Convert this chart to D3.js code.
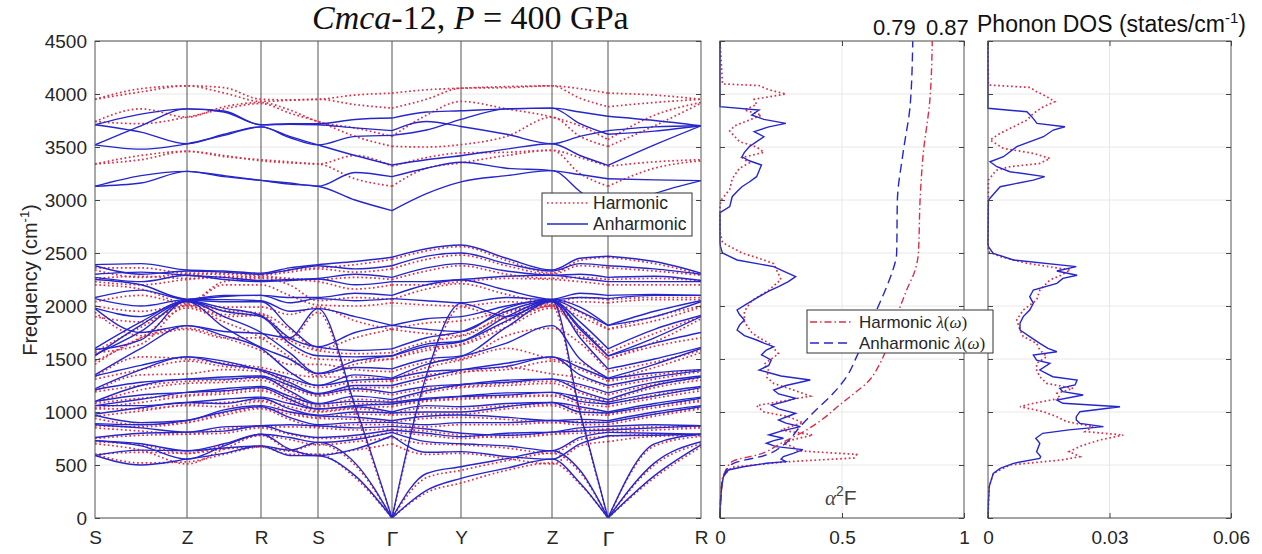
<!DOCTYPE html>
<html lang="en">
<head>
<meta charset="UTF-8">
<title>Cmca-12 phonons at 400 GPa</title>
<script src="https://d3js.org/d3.v7.min.js"></script>
<style>
  body { margin: 0; background: #fff; }
  svg text { font-family: "Liberation Sans", Arial, sans-serif; fill: #262626; }
</style>
</head>
<body>
<svg width="1262" height="554"></svg>
<script>
// ---------- data ----------
const yTicks = [0, 500, 1000, 1500, 2000, 2500, 3000, 3500, 4000, 4500];
const kNames = ["S", "Z", "R", "S", "\u0393", "Y", "Z", "\u0393", "R"];
const kPos = [0, 92, 166, 223, 297, 366, 457, 513, 606];
// k-path distance of every band sample (symmetry points + one point half way)
const kSample = [0, 46, 92, 129, 166, 194.5, 223, 260, 297, 331.5, 366, 411.5, 457, 485, 513, 559.5, 606];
const gammaCuts = [[0, 8], [8, 14], [14, 16]];

const a2fTicks = [0, 0.5, 1];
const a2fTickText = ["0", "0.5", "1"];
const dosTicks = [0, 0.03, 0.06];
const dosTickText = ["0", "0.03", "0.06"];
const lambdaTotals = ["0.79", "0.87"];

// anharmonic bands, cm^-1, columns: S . Z . R . S . G . Y . Z . G . R
const anhAcoustic = [
  [590, 500, 555, 610, 680, 590, 587, 400, 0, 260, 374, 470, 555, 330, 0, 400, 690],
  [590, 640, 635, 660, 680, 640, 713, 520, 0, 420, 484, 560, 635, 450, 0, 520, 720],
  [1975, 1750, 1815, 1760, 1740, 1700, 1975, 1060, 0, 1350, 2025, 1900, 2050, 1000, 0, 700, 790]
];
const anhOptic = [
  [730, 680, 555, 680, 790, 650, 590, 650, 776, 620, 626, 580, 555, 700, 776, 780, 790],
  [730, 700, 635, 700, 790, 760, 713, 740, 808, 720, 700, 680, 635, 760, 808, 800, 790],
  [760, 800, 810, 820, 870, 800, 760, 780, 830, 800, 767, 800, 810, 820, 830, 850, 870],
  [880, 850, 810, 860, 870, 880, 870, 850, 864, 840, 800, 780, 810, 850, 864, 880, 870],
  [890, 880, 920, 1000, 1050, 950, 880, 900, 902, 880, 900, 900, 920, 900, 902, 980, 1050],
  [970, 900, 920, 1020, 1060, 1000, 965, 950, 918, 960, 972, 950, 920, 930, 918, 1000, 1060],
  [980, 1040, 1090, 1080, 1130, 1030, 970, 1000, 990, 1000, 1000, 1050, 1090, 1000, 990, 1060, 1130],
  [1060, 1060, 1090, 1120, 1140, 1080, 1028, 1050, 1000, 1060, 1050, 1080, 1090, 1050, 1000, 1080, 1140],
  [1060, 1120, 1185, 1200, 1230, 1120, 1030, 1060, 1076, 1120, 1145, 1160, 1185, 1100, 1076, 1150, 1230],
  [1100, 1160, 1185, 1220, 1240, 1150, 1076, 1100, 1092, 1130, 1150, 1180, 1185, 1140, 1092, 1180, 1240],
  [1100, 1250, 1310, 1310, 1330, 1200, 1080, 1150, 1117, 1200, 1255, 1280, 1310, 1200, 1117, 1250, 1330],
  [1210, 1280, 1310, 1330, 1340, 1250, 1170, 1220, 1180, 1240, 1260, 1300, 1310, 1260, 1180, 1280, 1340],
  [1220, 1400, 1520, 1480, 1390, 1280, 1175, 1250, 1250, 1330, 1396, 1460, 1520, 1350, 1250, 1330, 1390],
  [1340, 1440, 1520, 1450, 1400, 1320, 1250, 1300, 1312, 1380, 1400, 1430, 1520, 1420, 1312, 1370, 1400],
  [1350, 1600, 1815, 1720, 1600, 1380, 1250, 1350, 1320, 1450, 1522, 1650, 1815, 1500, 1320, 1450, 1600],
  [1530, 1820, 2040, 1800, 1610, 1500, 1360, 1420, 1407, 1500, 1530, 1800, 2040, 1700, 1407, 1500, 1610],
  [1540, 1760, 2045, 1900, 1750, 1560, 1365, 1480, 1527, 1620, 1663, 1860, 2045, 1800, 1527, 1650, 1750],
  [1590, 1680, 2050, 1950, 1900, 1650, 1530, 1520, 1530, 1640, 1670, 1900, 2050, 1780, 1530, 1700, 1900],
  [1600, 1850, 2050, 1980, 1910, 1700, 1612, 1580, 1596, 1700, 1758, 1950, 2050, 1850, 1596, 1780, 1910],
  [1980, 1900, 2055, 2040, 2040, 1800, 1615, 1750, 1817, 1780, 1760, 1980, 2055, 1950, 1817, 1900, 2040],
  [2070, 2000, 2060, 2060, 2050, 1950, 1975, 1900, 1817, 1880, 1900, 2000, 2060, 1990, 1817, 1950, 2050],
  [2080, 2150, 2060, 2090, 2100, 2030, 2070, 2050, 2070, 2050, 2030, 2080, 2060, 2080, 2070, 2100, 2100],
  [2250, 2200, 2065, 2100, 2100, 2080, 2080, 2120, 2100, 2200, 2245, 2150, 2065, 2120, 2100, 2110, 2100],
  [2270, 2230, 2290, 2250, 2230, 2240, 2255, 2200, 2230, 2230, 2250, 2280, 2290, 2260, 2230, 2230, 2230],
  [2300, 2320, 2290, 2270, 2240, 2250, 2260, 2300, 2270, 2360, 2400, 2330, 2290, 2300, 2270, 2280, 2240],
  [2380, 2300, 2330, 2320, 2300, 2340, 2380, 2350, 2380, 2470, 2500, 2400, 2330, 2400, 2380, 2350, 2300],
  [2390, 2400, 2340, 2330, 2310, 2360, 2390, 2420, 2460, 2540, 2575, 2450, 2340, 2450, 2470, 2420, 2310]
];
const anhVibron = [
  [3130, 3160, 3270, 3230, 3185, 3150, 3130, 3000, 2900, 3060, 3171, 3230, 3277, 3080, 2880, 3060, 3183],
  [3130, 3230, 3270, 3220, 3185, 3160, 3130, 3260, 3220, 3300, 3356, 3300, 3277, 3240, 3200, 3190, 3183],
  [3520, 3480, 3530, 3610, 3690, 3600, 3520, 3420, 3330, 3380, 3418, 3480, 3531, 3420, 3327, 3520, 3700],
  [3520, 3700, 3860, 3830, 3710, 3715, 3710, 3680, 3654, 3740, 3694, 3620, 3531, 3600, 3654, 3690, 3700],
  [3710, 3640, 3530, 3620, 3690, 3590, 3520, 3600, 3610, 3660, 3760, 3860, 3867, 3720, 3620, 3650, 3700],
  [3710, 3810, 3860, 3840, 3710, 3720, 3720, 3760, 3773, 3830, 3842, 3860, 3867, 3830, 3790, 3750, 3700]
];

// harmonic bands, same columns
const harAcoustic = [
  [600, 520, 530, 600, 670, 600, 600, 380, 0, 240, 330, 450, 520, 320, 0, 380, 670],
  [600, 620, 610, 650, 670, 630, 700, 500, 0, 380, 450, 540, 610, 430, 0, 500, 700],
  [1940, 1720, 1780, 1700, 1700, 1680, 1940, 1020, 0, 1300, 1990, 1880, 2000, 980, 0, 680, 770]
];
const harOptic = [
  [700, 640, 510, 650, 780, 640, 600, 640, 700, 600, 610, 560, 510, 680, 720, 770, 780],
  [720, 690, 610, 690, 780, 740, 690, 720, 760, 700, 690, 660, 610, 740, 770, 790, 780],
  [750, 780, 790, 800, 850, 790, 750, 760, 810, 780, 750, 780, 790, 800, 810, 830, 850],
  [850, 820, 790, 840, 860, 860, 850, 830, 840, 820, 780, 760, 790, 830, 840, 860, 860],
  [870, 860, 900, 970, 1030, 930, 860, 880, 880, 860, 880, 880, 900, 880, 880, 960, 1030],
  [940, 880, 900, 990, 1040, 980, 940, 930, 900, 940, 950, 930, 900, 910, 900, 980, 1040],
  [960, 1010, 1060, 1050, 1100, 1000, 950, 980, 970, 980, 980, 1030, 1060, 980, 970, 1040, 1100],
  [1030, 1030, 1070, 1090, 1110, 1050, 1000, 1030, 980, 1040, 1030, 1060, 1070, 1030, 980, 1060, 1110],
  [1040, 1090, 1150, 1170, 1200, 1100, 1010, 1040, 1050, 1100, 1120, 1140, 1150, 1080, 1050, 1130, 1200],
  [1080, 1130, 1160, 1190, 1220, 1130, 1050, 1080, 1070, 1110, 1130, 1150, 1160, 1120, 1070, 1160, 1220],
  [1090, 1210, 1270, 1280, 1300, 1180, 1060, 1120, 1100, 1180, 1230, 1250, 1270, 1180, 1100, 1230, 1300],
  [1190, 1250, 1290, 1300, 1320, 1230, 1150, 1200, 1160, 1220, 1240, 1270, 1290, 1240, 1160, 1260, 1320],
  [1200, 1350, 1360, 1400, 1380, 1260, 1160, 1230, 1230, 1300, 1370, 1420, 1360, 1320, 1230, 1310, 1380],
  [1310, 1400, 1480, 1430, 1400, 1300, 1230, 1280, 1290, 1350, 1380, 1400, 1480, 1400, 1290, 1350, 1400],
  [1330, 1520, 1500, 1460, 1420, 1360, 1330, 1330, 1300, 1420, 1490, 1600, 1500, 1460, 1300, 1420, 1560],
  [1450, 1700, 1790, 1700, 1580, 1450, 1450, 1400, 1380, 1470, 1500, 1720, 1790, 1650, 1380, 1470, 1580],
  [1480, 1700, 1980, 1850, 1700, 1520, 1340, 1450, 1500, 1580, 1630, 1800, 1980, 1750, 1500, 1620, 1700],
  [1560, 1640, 2000, 1900, 1910, 1620, 1500, 1490, 1500, 1600, 1640, 1850, 2000, 1730, 1500, 1660, 1880],
  [1570, 1800, 2000, 1920, 1920, 1680, 1580, 1550, 1560, 1660, 1720, 1900, 2000, 1800, 1560, 1740, 1900],
  [1900, 1850, 2005, 1960, 1930, 1780, 1590, 1700, 1780, 1740, 1720, 1930, 2005, 1900, 1780, 1860, 1990],
  [2000, 1950, 2010, 1990, 1990, 1920, 1990, 1860, 1780, 1840, 1860, 1950, 2010, 1940, 1780, 1900, 2000],
  [2040, 2100, 2020, 2200, 2200, 2100, 2010, 2000, 2030, 2010, 2000, 2040, 2020, 2040, 2030, 2060, 2060],
  [2200, 2160, 2030, 2230, 2260, 2200, 2050, 2080, 2060, 2160, 2210, 2110, 2030, 2080, 2060, 2080, 2080],
  [2230, 2200, 2250, 2270, 2270, 2250, 2230, 2160, 2200, 2200, 2230, 2260, 2250, 2230, 2200, 2200, 2200],
  [2260, 2280, 2260, 2280, 2280, 2260, 2250, 2270, 2250, 2330, 2380, 2300, 2260, 2270, 2250, 2260, 2240],
  [2340, 2270, 2300, 2300, 2290, 2320, 2350, 2320, 2350, 2440, 2480, 2380, 2300, 2380, 2360, 2330, 2290],
  [2360, 2360, 2310, 2310, 2300, 2340, 2360, 2390, 2440, 2520, 2560, 2430, 2310, 2430, 2460, 2400, 2300]
];
const harVibron = [
  [3340, 3380, 3459, 3420, 3370, 3350, 3340, 3200, 3130, 3300, 3350, 3420, 3469, 3250, 3130, 3300, 3370],
  [3340, 3420, 3459, 3410, 3380, 3360, 3340, 3420, 3318, 3400, 3444, 3450, 3469, 3400, 3318, 3360, 3380],
  [3740, 3720, 3782, 3860, 3910, 3820, 3740, 3600, 3506, 3500, 3522, 3600, 3782, 3600, 3506, 3700, 3913],
  [3740, 3860, 3782, 3880, 3920, 3850, 3740, 3680, 3600, 3800, 3930, 3860, 3782, 3700, 3570, 3800, 3920],
  [3950, 4020, 4077, 4010, 3930, 3940, 3950, 3900, 3867, 3950, 4055, 4060, 4077, 3960, 3880, 3920, 3950],
  [3950, 4050, 4077, 4060, 3950, 3945, 3950, 3990, 4008, 4040, 4055, 4070, 4077, 4050, 4008, 3990, 3950]
];

// Eliashberg function alpha^2F, [frequency, value]
const a2fAnh = [[0,0],[150,0.002],[296,0.007],[390,0.014],[453,0.034],[484,0.096],[516,0.19],[532,0.27],[555,0.25],[579,0.26],[610,0.3],[645,0.34],[673,0.23],[705,0.19],[730,0.22],[752,0.26],[783,0.2],[820,0.25],[862,0.33],[895,0.27],[925,0.24],[960,0.28],[988,0.31],[1030,0.24],[1066,0.21],[1100,0.27],[1129,0.31],[1170,0.24],[1207,0.22],[1250,0.27],[1302,0.37],[1340,0.25],[1396,0.16],[1440,0.2],[1490,0.21],[1540,0.17],[1585,0.19],[1616,0.22],[1650,0.18],[1679,0.15],[1720,0.1],[1773,0.07],[1820,0.08],[1868,0.1],[1920,0.08],[1962,0.07],[2020,0.11],[2088,0.16],[2140,0.2],[2182,0.24],[2230,0.28],[2277,0.31],[2330,0.26],[2371,0.22],[2434,0.07],[2500,0.01],[2560,0.002],[2600,0],[2880,0],[2937,0.04],[3031,0.05],[3080,0.07],[3125,0.09],[3170,0.12],[3220,0.15],[3330,0.17],[3370,0.12],[3408,0.09],[3450,0.1],[3503,0.12],[3550,0.15],[3597,0.18],[3645,0.14],[3690,0.2],[3723,0.27],[3760,0.18],[3802,0.13],[3849,0.16],[3880,0],[4500,0]];
const a2fHar = [[0,0],[150,0.002],[300,0.006],[400,0.012],[480,0.05],[530,0.27],[566,0.55],[600,0.56],[634,0.32],[670,0.3],[705,0.26],[740,0.3],[783,0.38],[830,0.25],[870,0.3],[900,0.34],[956,0.28],[1000,0.18],[1060,0.15],[1100,0.25],[1150,0.37],[1200,0.31],[1270,0.22],[1330,0.19],[1390,0.2],[1450,0.18],[1500,0.21],[1550,0.24],[1600,0.22],[1650,0.2],[1700,0.16],[1750,0.13],[1850,0.1],[1950,0.1],[2050,0.13],[2150,0.2],[2250,0.25],[2300,0.24],[2400,0.22],[2450,0.16],[2500,0.09],[2600,0.01],[2700,0],[2950,0],[3000,0.005],[3100,0.04],[3200,0.05],[3300,0.08],[3350,0.12],[3400,0.09],[3450,0.18],[3500,0.15],[3550,0.08],[3650,0.04],[3700,0.06],[3800,0.17],[3850,0.1],[3900,0.15],[3950,0.14],[4000,0.27],[4040,0.2],[4080,0.16],[4095,0.01],[4500,0]];

// cumulative coupling lambda(omega)
const lamAnh = [[0,0],[296,0.007],[453,0.027],[516,0.055],[595,0.19],[689,0.26],[862,0.328],[988,0.38],[1176,0.464],[1333,0.519],[1522,0.56],[1742,0.601],[1962,0.642],[2182,0.683],[2308,0.704],[2500,0.724],[3000,0.727],[3440,0.75],[3910,0.78],[4500,0.79]];
const lamHar = [[0,0],[296,0.006],[480,0.03],[539,0.055],[600,0.16],[705,0.25],[831,0.355],[925,0.416],[1066,0.49],[1176,0.55],[1270,0.6],[1459,0.656],[1648,0.69],[1899,0.724],[2151,0.765],[2340,0.8],[2500,0.813],[3000,0.82],[3440,0.833],[3940,0.86],[4500,0.87]];

// phonon density of states
const dosAnh = [[0,0],[145,0.0001],[296,0.0003],[421,0.0013],[468,0.003],[516,0.0063],[563,0.0128],[579,0.013],[626,0.012],[705,0.0128],[752,0.0118],[799,0.0135],[831,0.02],[862,0.0285],[893,0.0227],[925,0.0218],[956,0.0218],[1003,0.0227],[1050,0.0326],[1082,0.0185],[1113,0.017],[1160,0.0235],[1192,0.0185],[1223,0.0177],[1255,0.0215],[1302,0.022],[1333,0.016],[1396,0.0128],[1459,0.0153],[1490,0.012],[1537,0.0112],[1569,0.017],[1600,0.0148],[1648,0.0128],[1711,0.0103],[1774,0.0079],[1837,0.0079],[1900,0.0087],[1962,0.0103],[2025,0.0112],[2088,0.0103],[2151,0.0112],[2214,0.017],[2261,0.0185],[2290,0.022],[2330,0.017],[2371,0.0218],[2434,0.0063],[2497,0.0013],[2560,0.0001],[2600,0],[3000,0.0001],[3125,0.003],[3188,0.0112],[3220,0.014],[3267,0.0054],[3314,0.0022],[3361,0.0005],[3408,0.0038],[3503,0.0071],[3597,0.0137],[3660,0.0161],[3691,0.019],[3723,0.0121],[3786,0.0108],[3833,0.0096],[3865,0],[4500,0]];
const dosHar = [[0,0],[296,0.0003],[421,0.0013],[500,0.0054],[547,0.018],[579,0.0227],[626,0.02],[680,0.023],[736,0.0276],[783,0.0334],[815,0.024],[862,0.026],[909,0.0194],[956,0.017],[1003,0.0137],[1050,0.0079],[1082,0.0112],[1129,0.0178],[1176,0.017],[1223,0.021],[1270,0.0145],[1333,0.0128],[1396,0.012],[1459,0.012],[1522,0.0145],[1585,0.0128],[1648,0.012],[1711,0.0087],[1774,0.0079],[1868,0.0071],[1962,0.0087],[2056,0.012],[2150,0.0128],[2245,0.0153],[2290,0.018],[2340,0.0203],[2403,0.0096],[2466,0.003],[2513,0.0001],[2600,0],[3188,0.0001],[3280,0.002],[3314,0.0054],[3345,0.0128],[3392,0.0153],[3440,0.0112],[3487,0.0038],[3566,0.0005],[3629,0.003],[3691,0.0063],[3754,0.0096],[3817,0.0112],[3880,0.0137],[3927,0.0165],[3975,0.0145],[4022,0.012],[4062,0.0104],[4085,0.0001],[4500,0]];

// ---------- drawing ----------
const RED = "#d9304a", BLUE = "#2626cc";
const svg = d3.select("svg");

const y = d3.scaleLinear().domain([0, 4500]).range([518, 41]);
const xK = d3.scaleLinear().domain([0, 606]).range([95, 701]);
const xA = d3.scaleLinear().domain([0, 1]).range([720, 964]);
const xD = d3.scaleLinear().domain([0, 0.06]).range([988, 1231]);

// grid
function grid(x0, x1, vx) {
  const g = svg.append("g").attr("stroke", "#e8e8e8").attr("stroke-width", 1);
  g.selectAll("line.h").data(yTicks).join("line")
    .attr("x1", x0).attr("x2", x1).attr("y1", d => y(d)).attr("y2", d => y(d));
  g.selectAll("line.v").data(vx).join("line")
    .attr("x1", d => d).attr("x2", d => d).attr("y1", y(0)).attr("y2", y(4500));
}
grid(95, 701, []);
grid(720, 964, [xA(0.5)]);
grid(988, 1231, [xD(0.03)]);

// symmetry point lines
svg.append("g").selectAll("line").data(kPos.slice(1, -1)).join("line")
  .attr("x1", d => xK(d)).attr("x2", d => xK(d))
  .attr("y1", y(0)).attr("y2", y(4500))
  .attr("stroke", "#555").attr("stroke-width", 1);

// bands
svg.append("clipPath").attr("id", "bandclip").append("rect")
  .attr("x", 95).attr("y", 41).attr("width", 606).attr("height", 477);
const bandLine = d3.line().x(d => xK(d[0])).y(d => y(d[1])).curve(d3.curveMonotoneX);
function drawBands(rows, color, dash, width) {
  const pieces = [];
  rows.forEach(row => gammaCuts.forEach(([a, b]) => {
    pieces.push(d3.range(a, b + 1).map(i => [kSample[i], row[i]]));
  }));
  svg.append("g").attr("clip-path", "url(#bandclip)")
    .selectAll("path").data(pieces).join("path")
    .attr("d", bandLine).attr("fill", "none")
    .attr("stroke", color).attr("stroke-width", width)
    .attr("stroke-dasharray", dash);
}
drawBands([...harAcoustic, ...harOptic, ...harVibron], RED, "1.7,2.6", 1.7);
drawBands([...anhAcoustic, ...anhOptic, ...anhVibron], BLUE, null, 1.4);

// alpha^2F and lambda
const vLine = xs => d3.line().x(d => xs(d[1])).y(d => y(d[0]));
function curve(data, xs, color, dash, width, crv) {
  svg.append("path").datum(data)
    .attr("d", vLine(xs).curve(crv || d3.curveLinear))
    .attr("fill", "none").attr("stroke", color)
    .attr("stroke-width", width).attr("stroke-dasharray", dash);
}
curve(a2fHar, xA, RED, "1.7,2.6", 1.7);
curve(a2fAnh, xA, BLUE, null, 1.4);
curve(lamHar, xA, RED, "7,3,1.5,3", 1.4, d3.curveMonotoneY);
curve(lamAnh, xA, BLUE, "9,5", 1.4, d3.curveMonotoneY);

// DOS
curve(dosHar, xD, RED, "1.7,2.6", 1.7);
curve(dosAnh, xD, BLUE, null, 1.4);

// axes boxes and ticks
function styleAxis(g, size) {
  g.select(".domain").remove();
  g.selectAll(".tick line").attr("stroke", "#444");
  g.selectAll("text").attr("font-family", "Liberation Sans, Arial, sans-serif")
    .attr("font-size", size).attr("fill", "#262626");
}
function box(x0, x1, xs, xt, xtText) {
  svg.append("rect").attr("x", x0).attr("y", 41).attr("width", x1 - x0).attr("height", 477)
    .attr("fill", "none").attr("stroke", "#555").attr("stroke-width", 1);
  const left = svg.append("g").attr("transform", `translate(${x0},0)`)
    .call(d3.axisLeft(y).tickValues(yTicks).tickSizeInner(-5).tickSizeOuter(0).tickPadding(8)
      .tickFormat(x0 === 95 ? d3.format("d") : ""));
  styleAxis(left, 19);
  const right = svg.append("g").attr("transform", `translate(${x1},0)`)
    .call(d3.axisRight(y).tickValues(yTicks).tickSizeInner(-5).tickSizeOuter(0).tickFormat(""));
  styleAxis(right, 19);
  if (xs) {
    const bot = svg.append("g").attr("transform", `translate(0,${y(0)})`)
      .call(d3.axisBottom(xs).tickValues(xt).tickSizeInner(-5).tickSizeOuter(0).tickPadding(13)
        .tickFormat((d, i) => xtText[i]));
    styleAxis(bot, 19);
    const top = svg.append("g").attr("transform", `translate(0,${y(4500)})`)
      .call(d3.axisTop(xs).tickValues(xt).tickSizeInner(-5).tickSizeOuter(0).tickFormat(""));
    styleAxis(top, 19);
  }
}
box(95, 701);
box(720, 964, xA, a2fTicks, a2fTickText);
box(988, 1231, xD, dosTicks, dosTickText);

// k-point labels
const kAxis = svg.append("g").attr("transform", `translate(0,${y(0)})`)
  .call(d3.axisBottom(xK).tickValues(kPos).tickSize(0).tickPadding(13).tickFormat((d, i) => kNames[i]));
styleAxis(kAxis, 19);
kAxis.selectAll("text").filter(d => kNames[kPos.indexOf(d)] === "\u0393")
  .attr("font-family", "Liberation Serif, Times New Roman, serif").attr("font-size", 21);

// y label
const yl = svg.append("text").attr("transform", "translate(37,280) rotate(-90)")
  .attr("text-anchor", "middle").attr("font-size", 20);
yl.append("tspan").text("Frequency (cm");
yl.append("tspan").attr("font-size", 13).attr("dy", -8).text("-1");
yl.append("tspan").attr("dy", 8).text(")");

// title
const title = svg.append("text").attr("x", 312).attr("y", 29)
  .attr("font-size", 34).style("font-family", "'Liberation Serif', 'Times New Roman', serif").style("fill", "#111");
title.append("tspan").attr("font-style", "italic").text("Cmca");
title.append("tspan").text("-12, ");
title.append("tspan").attr("font-style", "italic").text("P");
title.append("tspan").text(" = 400 GPa");

// lambda totals and DOS title
svg.selectAll("text.lam").data(lambdaTotals).join("text").attr("class", "lam")
  .attr("x", (d, i) => [873, 926][i]).attr("y", 35).attr("font-size", 22).style("fill", "#111").text(d => d);
const dt = svg.append("text").attr("x", 977).attr("y", 32).attr("font-size", 23).style("fill", "#111");
dt.append("tspan").text("Phonon DOS (states/cm");
dt.append("tspan").attr("font-size", 15).attr("dy", -9).text("-1");
dt.append("tspan").attr("dy", 9).text(")");

// alpha^2F label
const al = svg.append("text").attr("x", 825).attr("y", 505).attr("font-size", 21).style("fill", "#444");
al.append("tspan").style("font-family", "'Liberation Serif', serif").attr("font-style", "italic").text("\u03b1");
al.append("tspan").attr("font-size", 14).attr("dy", -9).text("2");
al.append("tspan").attr("dy", 9).text("F");

// legend: band panel
const lg1 = svg.append("g");
lg1.append("rect").attr("x", 542).attr("y", 193).attr("width", 150).attr("height", 43)
  .attr("fill", "#fff").attr("stroke", "#333").attr("stroke-width", 1);
[["Harmonic", RED, "1.7,2.6", 203], ["Anharmonic", BLUE, null, 224]].forEach(([t, c, ds, yy]) => {
  lg1.append("line").attr("x1", 547).attr("x2", 588).attr("y1", yy).attr("y2", yy)
    .attr("stroke", c).attr("stroke-width", ds ? 1.7 : 1.4).attr("stroke-dasharray", ds);
  lg1.append("text").attr("x", 593).attr("y", yy + 6).attr("font-size", 17.5).text(t);
});

// legend: lambda
const lg2 = svg.append("g");
lg2.append("rect").attr("x", 807).attr("y", 310).attr("width", 186).attr("height", 43)
  .attr("fill", "#fff").attr("stroke", "#333").attr("stroke-width", 1);
[["Harmonic ", RED, "7,3,1.5,3", 322], ["Anharmonic ", BLUE, "9,5", 343]].forEach(([t, c, ds, yy]) => {
  lg2.append("line").attr("x1", 810).attr("x2", 851).attr("y1", yy).attr("y2", yy)
    .attr("stroke", c).attr("stroke-width", 1.4).attr("stroke-dasharray", ds);
  const tx = lg2.append("text").attr("x", 859).attr("y", yy + 6).attr("font-size", 17);
  tx.append("tspan").text(t);
  tx.append("tspan").style("font-family", "'Liberation Serif', serif").attr("font-style", "italic").text("\u03bb");
  tx.append("tspan").style("font-family", "'Liberation Serif', serif").text("(");
  tx.append("tspan").style("font-family", "'Liberation Serif', serif").attr("font-style", "italic").text("\u03c9");
  tx.append("tspan").style("font-family", "'Liberation Serif', serif").text(")");
});
</script>
</body>
</html>
